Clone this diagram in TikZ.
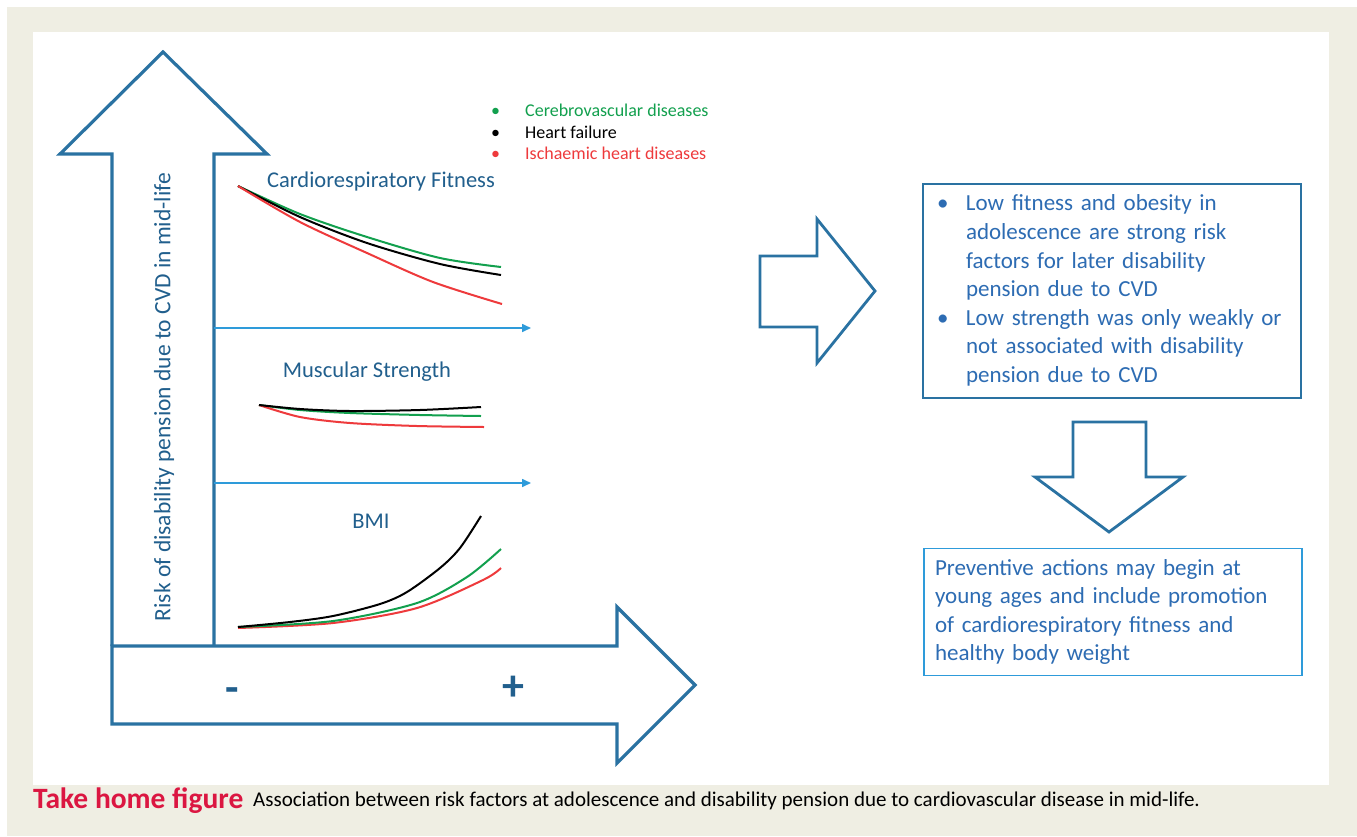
\documentclass[tikz,border=0pt]{standalone}
\usepackage{fontspec}
\setmainfont{Carlito}
\usepackage{tikz}
\usetikzlibrary{arrows.meta}

\definecolor{framebg}{HTML}{EFEEE3}
\definecolor{arrowblue}{HTML}{2A72A2}
\definecolor{axisblue}{HTML}{2E9BDA}
\definecolor{labelblue}{HTML}{215F8D}
\definecolor{boxtext}{HTML}{2D6CB3}
\definecolor{cvgreen}{HTML}{12A04E}
\definecolor{ihdred}{HTML}{EE3A3C}
\definecolor{capred}{HTML}{DB1641}

\tikzset{
  bigarrow/.style={draw=arrowblue, line width=3.2pt, line join=miter},
  blockarrow/.style={draw=arrowblue, line width=2.8pt, line join=miter},
  axis/.style={draw=axisblue, line width=1.6pt, -{Triangle[length=9pt,width=8pt]}},
  curve/.style={line width=2pt},
  panellabel/.style={text=labelblue, inner sep=0pt, font=\fontsize{22.5}{26}\selectfont},
  signlabel/.style={text=labelblue, font=\fontsize{44}{48}\selectfont\bfseries},
  infobox/.style={line width=1.8pt, text=boxtext, inner xsep=14pt, inner ysep=0pt,
    minimum width=378pt, text width=350pt, align=left,
    font=\fontsize{23}{28.6}\selectfont}
}

\begin{document}
\begin{tikzpicture}[x=1pt,y=-1pt]
  \useasboundingbox (0,0) rectangle (1357,836);
  \fill[white] (0,0) rectangle (1357,836);
  \fill[framebg] (7,7) rectangle (1357,836);
  \fill[white] (33,32) rectangle (1329,785);

  % axes of the sketch
  \draw[bigarrow] (112,646) -- (617,646) -- (617,607) -- (695,685) -- (617,763)
    -- (617,724) -- (112,724) -- cycle;
  \draw[bigarrow] (112,646) -- (112,154) -- (60,154) -- (163,52) -- (267,154)
    -- (214,154) -- (214,646);
  \node[rotate=90, text=labelblue, font=\fontsize{23.5}{26}\selectfont] (risk) at (164,397)
    {Risk of disability pension due to CVD in mid-life};
  \node[signlabel] (minus) at (232,695) {-};
  \node[signlabel] (plus) at (513,688) {+};

  \coordinate (crf0) at (214,328);
  \coordinate (crf1) at (531,328);
  \coordinate (ms0) at (214,483);
  \coordinate (ms1) at (531,483);
  \draw[axis] (crf0) -- (crf1);
  \draw[axis] (ms0) -- (ms1);

  % legend
  \node[anchor=west, inner sep=0pt, font=\fontsize{18}{21.5}\selectfont] (legend) at (491,134)
    {\begin{tabular}{@{}l@{}}
      \makebox[34pt][l]{\color{cvgreen}\textbullet}{\color{cvgreen}Cerebrovascular diseases}\\
      \makebox[34pt][l]{\textbullet}Heart failure\\
      \makebox[34pt][l]{\color{ihdred}\textbullet}{\color{ihdred}Ischaemic heart diseases}
    \end{tabular}};

  % cardiorespiratory fitness
  \node[panellabel] (crf) at (381,181) {Cardiorespiratory Fitness};
  \draw[curve, cvgreen] plot[smooth] coordinates {(238,186) (300,214) (367,237) (440,258) (501,267)};
  \draw[curve, black] plot[smooth] coordinates {(238,186) (300,217) (367,243) (440,264) (501,275)};
  \draw[curve, ihdred] plot[smooth] coordinates {(238,186) (300,222) (367,253) (433,282) (502,304)};

  % muscular strength
  \node[panellabel] (ms) at (367,372) {Muscular Strength};
  \draw[curve, cvgreen] plot[smooth] coordinates {(259,405) (300,410) (350,413) (420,415) (481,416)};
  \draw[curve, ihdred] plot[smooth] coordinates {(259,405) (300,417) (350,423) (417,426) (484,427)};
  \draw[curve, black] plot[smooth] coordinates {(259,405) (300,409) (350,411) (420,410) (481,407)};

  % BMI
  \node[panellabel] (bmi) at (371,521) {BMI};
  \draw[curve, ihdred] plot[smooth] coordinates {(238,628) (333,623) (417,608) (483,580) (501,568)};
  \draw[curve, cvgreen] plot[smooth] coordinates {(238,627) (333,621) (417,603) (467,577) (501,549)};
  \draw[curve, black] plot[smooth] coordinates {(238,627) (290,622) (333,616) (380,604) (407,592) (440,568) (460,548) (481,516)};

  % conclusions
  \draw[blockarrow] (760,256) -- (817,256) -- (817,219) -- (875,291) -- (817,363)
    -- (817,327) -- (760,327) -- cycle;
  \node[infobox, draw=arrowblue, minimum height=214pt] (findings) at (1112,291)
    {\begin{tabular}{@{}p{29pt}@{}l@{}}
      \textbullet & Low fitness and obesity in\\
      & adolescence are strong risk\\
      & factors for later disability\\
      & pension due to CVD\\
      \textbullet & Low strength was only weakly or\\
      & not associated with disability\\
      & pension due to CVD
    \end{tabular}};
  \draw[blockarrow] (1073,422) -- (1146,422) -- (1146,477) -- (1183,477) -- (1109,532)
    -- (1035,477) -- (1073,477) -- cycle;
  \node[infobox, draw=axisblue, inner xsep=11pt, text width=356pt, minimum height=127pt] (actions) at (1113,612)
    {Preventive actions may begin at\\
     young ages and include promotion\\
     of cardiorespiratory fitness and\\
     healthy body weight};

  % caption
  \node[anchor=west, inner sep=0pt, text=capred, font=\fontsize{29.5}{32}\selectfont\bfseries] (captitle) at (33,801)
    {Take home figure};
  \node[anchor=west, inner sep=0pt, font=\fontsize{21}{24}\selectfont] (caption) at (253,801)
    {Association between risk factors at adolescence and disability pension due to cardiovascular disease in mid-life.};
\end{tikzpicture}
\end{document}
